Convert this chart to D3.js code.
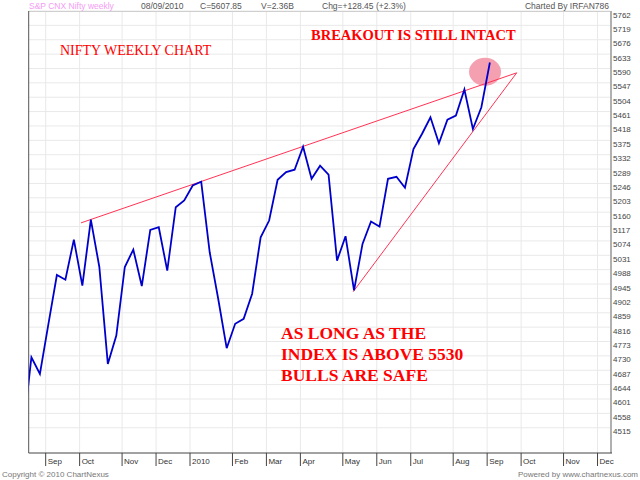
<!DOCTYPE html>
<html lang="en">
<head>
<meta charset="UTF-8">
<title>Nifty weekly chart</title>
<script src="https://d3js.org/d3.v7.min.js"></script>
<style>
    body { margin: 0; background: #fff; }
    svg { display: block; }
    .sans { font-family: "Liberation Sans", Arial, sans-serif; }
    .note { font-family: "Liberation Serif", "Times New Roman", serif; fill: #ff0000; }
</style>
</head>
<body>
<div id="chart"></div>
<script>
    // weekly closes, first value is the week before the left edge (clipped)
    var closes = [4500, 4726, 4676, 4825, 4972, 4958, 5078, 4940, 5138, 4996, 4706,
        4791, 4996, 5048, 4939, 5107, 5115, 4985, 5175, 5195, 5240, 5251,
        5040, 4901, 4753, 4826, 4841, 4916, 5085, 5135, 5257, 5280, 5287,
        5356, 5260, 5299, 5272, 5015, 5088, 4926, 5065, 5132, 5117, 5260,
        5266, 5233, 5349, 5394, 5444, 5366, 5437, 5449, 5527, 5409, 5474, 5608];
    var firstWeek = -1;

    // month ticks: week index of first week in each month
    var monthWeeks = [1, 5, 10, 14, 18, 23, 27, 31, 36, 40, 44, 49, 53, 57, 62, 66];
    var monthLabels = ["Sep", "Oct", "Nov", "Dec", "2010", "Feb", "Mar", "Apr", "May",
        "Jun", "Jul", "Aug", "Sep", "Oct", "Nov", "Dec"];

    var priceTicks = [5762, 5719, 5676, 5633, 5590, 5547, 5504, 5461, 5418, 5375,
        5332, 5289, 5246, 5203, 5160, 5117, 5074, 5031, 4988, 4945, 4902, 4859,
        4816, 4773, 4730, 4687, 4644, 4601, 4558, 4515];

    // trend lines [week, price]
    var upperTrend = [[5.84, 5128], [57.16, 5577]];
    var lowerTrend = [[37.9, 4922], [57.16, 5577]];
    var highlight = [53.43, 5580];

    var w = 640, h = 480;
    var pL = 28.7, pR = 610, pT = 11, pB = 453;

    var x = d3.scaleLinear().domain([-0.32, 68.15]).range([pL, pR]);
    var y = d3.scaleLinear().domain([4439.4, 5762]).range([pB, pT]);

    var svg = d3.select('#chart').append('svg')
        .attr('width', w)
        .attr('height', h);

    svg.append('clipPath').attr('id', 'plot')
        .append('rect')
        .attr('x', pL).attr('y', pT)
        .attr('width', pR - pL).attr('height', pB - pT);

    //grid
    svg.append('g').selectAll('line')
        .data(priceTicks)
        .enter().append('line')
        .attr('x1', pL).attr('x2', pR)
        .attr('y1', d => y(d)).attr('y2', d => y(d))
        .attr('stroke', '#e9e9e9');
    svg.append('g').selectAll('line')
        .data(monthWeeks)
        .enter().append('line')
        .attr('x1', d => x(d + 0.68)).attr('x2', d => x(d + 0.68))
        .attr('y1', pT).attr('y2', pB)
        .attr('stroke', '#e9e9e9');

    //frame
    svg.append('line').attr('x1', pL).attr('x2', pR).attr('y1', pT + 0.5).attr('y2', pT + 0.5)
        .attr('stroke', '#cfcfcf');
    svg.append('line').attr('x1', pR + 1).attr('x2', pR + 1).attr('y1', pT).attr('y2', pB)
        .attr('stroke', '#b0b0b0').attr('stroke-width', 2);
    svg.append('line').attr('x1', pL).attr('x2', pL).attr('y1', pT).attr('y2', pB)
        .attr('stroke', '#555');
    svg.append('line').attr('x1', pL).attr('x2', pR + 2).attr('y1', pB).attr('y2', pB)
        .attr('stroke', '#444');

    //price labels
    svg.append('g').selectAll('text')
        .data(priceTicks)
        .enter().append('text')
        .attr('class', 'sans')
        .attr('x', pR + 3)
        .attr('y', d => y(d) + 6.5)
        .attr('font-size', '8px')
        .attr('fill', '#444')
        .text(d => d);

    //month ticks
    var months = svg.append('g');
    months.selectAll('line')
        .data(monthWeeks)
        .enter().append('line')
        .attr('x1', d => x(d + 0.68)).attr('x2', d => x(d + 0.68))
        .attr('y1', pB).attr('y2', pB + 13)
        .attr('stroke', '#444');
    months.selectAll('text')
        .data(monthWeeks)
        .enter().append('text')
        .attr('class', 'sans')
        .attr('x', d => x(d + 0.68) + 2)
        .attr('y', pB + 11)
        .attr('font-size', '8px')
        .attr('fill', '#333')
        .text((d, i) => monthLabels[i]);

    //highlight circle
    svg.append('ellipse')
        .attr('cx', x(highlight[0]))
        .attr('cy', y(highlight[1]))
        .attr('rx', 16).attr('ry', 14)
        .attr('fill', '#f4a0b0');

    var line = d3.line().x(d => x(d[0])).y(d => y(d[1]));

    svg.append('path')
        .datum(upperTrend)
        .attr('d', line)
        .attr('fill', 'none')
        .attr('stroke', '#ff3355')
        .attr('stroke-width', 1);
    svg.append('path')
        .datum(lowerTrend)
        .attr('d', line)
        .attr('fill', 'none')
        .attr('stroke', '#ff3355')
        .attr('stroke-width', 1);

    svg.append('path')
        .datum(closes.map((c, i) => [i + firstWeek, c]))
        .attr('clip-path', 'url(#plot)')
        .attr('d', line)
        .attr('fill', 'none')
        .attr('stroke', '#0000cc')
        .attr('stroke-width', 1.8)
        .attr('stroke-linejoin', 'miter');

    //header
    var header = [
        {t: 'S&P CNX Nifty weekly', x: 29, c: '#f49cf4'},
        {t: '08/09/2010', x: 141, c: '#555'},
        {t: 'C=5607.85', x: 200, c: '#555'},
        {t: 'V=2.36B', x: 261, c: '#555'},
        {t: 'Chg=+128.45 (+2.3%)', x: 322, c: '#555'}
    ];
    svg.append('g').selectAll('text')
        .data(header)
        .enter().append('text')
        .attr('class', 'sans')
        .attr('x', d => d.x)
        .attr('y', 9)
        .attr('font-size', '8.5px')
        .attr('fill', d => d.c)
        .text(d => d.t);
    svg.append('text').attr('class', 'sans')
        .attr('x', 609).attr('y', 9)
        .attr('text-anchor', 'end')
        .attr('font-size', '8.5px').attr('fill', '#555')
        .text('Charted By IRFAN786');

    //footer
    svg.append('text').attr('class', 'sans')
        .attr('x', 2).attr('y', 477)
        .attr('font-size', '8px').attr('fill', '#777')
        .text('Copyright \u00a9 2010 ChartNexus');
    svg.append('text').attr('class', 'sans')
        .attr('x', 638).attr('y', 477)
        .attr('text-anchor', 'end')
        .attr('font-size', '8px').attr('fill', '#777')
        .text('Powered by www.chartnexus.com');

    //notes
    svg.append('text').attr('class', 'note')
        .attr('x', 60).attr('y', 55)
        .attr('font-size', '14px')
        .text('NIFTY WEEKLY CHART');
    svg.append('text').attr('class', 'note')
        .attr('x', 311).attr('y', 40)
        .attr('font-size', '14.5px').attr('font-weight', 'bold')
        .text('BREAKOUT IS STILL INTACT');

    var notes = ['AS LONG AS THE', 'INDEX IS ABOVE 5530', 'BULLS ARE SAFE'];
    svg.append('g').selectAll('text')
        .data(notes)
        .enter().append('text')
        .attr('class', 'note')
        .attr('x', 281)
        .attr('y', (d, i) => 339 + i * 21)
        .attr('font-size', '17.5px')
        .attr('font-weight', 'bold')
        .text(d => d);
</script>
</body>
</html>
